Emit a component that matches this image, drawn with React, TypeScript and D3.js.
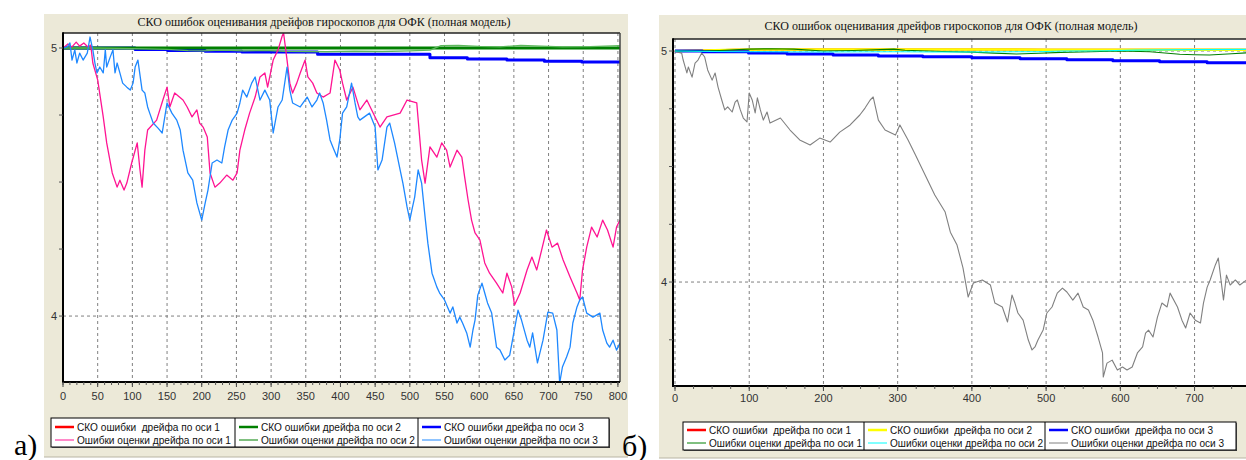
import React from 'react';
import * as d3 from 'd3';

type Pt = [number, number];

const TITLE = 'СКО ошибок оценивания дрейфов гироскопов для ОФК (полная модель)';

// ---------- panel а): [time, value] ----------
const estAxis1A: Pt[] = [
  [0, 5.0], [7, 5.015], [13, 5.004], [19, 5.022], [24, 5.007], [30, 5.019], [36, 5.004], [40, 5.011],
  [43, 4.944], [50, 4.881], [58, 4.743], [63, 4.646], [71, 4.534], [78, 4.481], [82, 4.507], [88, 4.47],
  [92, 4.496], [99, 4.571], [107, 4.646], [111, 4.545], [114, 4.481], [118, 4.619], [122, 4.694], [135, 4.731],
  [144, 4.806], [150, 4.854], [154, 4.78], [161, 4.832], [173, 4.806], [179, 4.78], [186, 4.743], [193, 4.769],
  [197, 4.72], [202, 4.705], [208, 4.668], [212, 4.534], [219, 4.481], [226, 4.496], [236, 4.526], [245, 4.507],
  [251, 4.534], [255, 4.619], [262, 4.694], [269, 4.757], [277, 4.817], [284, 4.892], [291, 4.907], [295, 4.854],
  [303, 4.955], [310, 4.993], [316, 5.045], [318, 5.056], [323, 4.955], [327, 4.869], [331, 4.832], [337, 4.869],
  [342, 4.907], [349, 4.955], [353, 4.892], [360, 4.869], [366, 4.832], [375, 4.817], [385, 4.832], [392, 4.955],
  [399, 4.918], [403, 4.869], [409, 4.806], [418, 4.854], [428, 4.769], [438, 4.806], [457, 4.705], [467, 4.743],
  [486, 4.757], [496, 4.806], [510, 4.795], [517, 4.582], [522, 4.496], [529, 4.631], [539, 4.593], [546, 4.646],
  [553, 4.619], [558, 4.556], [568, 4.619], [575, 4.593], [579, 4.519], [584, 4.433], [589, 4.358], [594, 4.31],
  [601, 4.284], [608, 4.198], [615, 4.16], [625, 4.123], [634, 4.086], [640, 4.16], [647, 4.108], [651, 4.041],
  [659, 4.086], [669, 4.172], [676, 4.22], [683, 4.172], [690, 4.246], [697, 4.321], [705, 4.257], [713, 4.272],
  [721, 4.209], [731, 4.146], [741, 4.086], [745, 4.06], [749, 4.172], [755, 4.257], [762, 4.332], [770, 4.295],
  [778, 4.358], [785, 4.321], [793, 4.257], [798, 4.332], [803, 4.358],
];

const estAxis2A: Pt[] = [
  [0, 5.0], [40, 5.0], [80, 4.999], [120, 4.997], [150, 4.995], [180, 4.99], [200, 4.989], [230, 4.992],
  [260, 4.989], [290, 4.991], [320, 4.988], [350, 4.987], [380, 4.986], [420, 4.988], [460, 4.987], [500, 4.989],
  [529, 4.992], [545, 5.009], [570, 5.01], [600, 5.006], [630, 5.004], [660, 5.01], [690, 5.007], [720, 5.004],
  [760, 5.005], [803, 5.009],
];

const estAxis3A: Pt[] = [
  [0, 5.0], [6, 5.004], [10, 5.019], [13, 4.955], [17, 4.993], [20, 4.944], [24, 4.981], [29, 4.955],
  [35, 4.981], [39, 5.041], [43, 4.993], [46, 4.944], [49, 4.907], [53, 4.929], [58, 4.907], [61, 4.993],
  [63, 4.929], [68, 4.966], [72, 4.993], [75, 4.907], [78, 4.944], [82, 4.907], [86, 4.869], [92, 4.854],
  [97, 4.843], [101, 4.869], [104, 4.929], [108, 4.955], [114, 4.843], [118, 4.832], [122, 4.78], [125, 4.757],
  [130, 4.72], [137, 4.701], [143, 4.683], [150, 4.795], [157, 4.757], [164, 4.731], [169, 4.694], [173, 4.619],
  [180, 4.534], [187, 4.507], [193, 4.422], [200, 4.358], [205, 4.422], [209, 4.47], [215, 4.571], [222, 4.582],
  [229, 4.571], [233, 4.631], [238, 4.694], [244, 4.731], [251, 4.757], [255, 4.795], [259, 4.843], [265, 4.817],
  [272, 4.869], [277, 4.892], [284, 4.806], [291, 4.843], [298, 4.806], [303, 4.683], [310, 4.78], [316, 4.806],
  [323, 4.929], [327, 4.843], [331, 4.795], [342, 4.78], [352, 4.817], [359, 4.78], [366, 4.806], [370, 4.832],
  [375, 4.795], [380, 4.731], [385, 4.657], [389, 4.631], [395, 4.593], [399, 4.657], [403, 4.757], [409, 4.78],
  [416, 4.869], [421, 4.795], [425, 4.743], [428, 4.731], [442, 4.757], [450, 4.705], [454, 4.545], [460, 4.582],
  [467, 4.705], [471, 4.72], [478, 4.646], [486, 4.545], [490, 4.496], [496, 4.407], [500, 4.358], [503, 4.396],
  [507, 4.444], [512, 4.545], [517, 4.496], [522, 4.369], [526, 4.272], [532, 4.16], [539, 4.108], [543, 4.086],
  [550, 4.06], [558, 4.011], [562, 4.034], [568, 3.974], [572, 3.996], [576, 3.974], [582, 3.937], [587, 3.884],
  [591, 3.948], [594, 3.985], [598, 4.078], [604, 4.123], [608, 4.086], [612, 4.049], [618, 4.011], [625, 3.884],
  [630, 3.873], [637, 3.836], [644, 3.854], [648, 3.91], [656, 4.022], [661, 3.985], [669, 3.91], [673, 3.884],
  [677, 3.937], [684, 3.825], [692, 3.91], [699, 4.015], [706, 4.011], [712, 3.948], [716, 3.75], [720, 3.81],
  [726, 3.847], [731, 3.884], [735, 3.974], [741, 4.034], [745, 4.06], [749, 4.071], [755, 4.011], [764, 3.996],
  [774, 4.011], [778, 3.948], [784, 3.899], [788, 3.884], [793, 3.91], [798, 3.873], [803, 3.899],
];

const skoAxis2A: Pt[] = [[0, 5.0], [803, 5.0]];
// axis-1 RMS coincides with axis-2 RMS and lies underneath it
const skoAxis1A: Pt[] = [[0, 5.0], [803, 5.0]];
const skoAxis3A: Pt[] = [
  [0, 5.0], [104, 4.994], [151, 4.991], [205, 4.988], [258, 4.985], [367, 4.977], [529, 4.964],
  [583, 4.959], [640, 4.955], [694, 4.951], [748, 4.948], [803, 4.948],
];

// ---------- panel б): [time, value] ----------
const estAxis1B: Pt[] = [
  [0, 5.0], [30, 4.999], [60, 5.002], [100, 5.008], [130, 5.01], [160, 5.008], [200, 5.0], [240, 5.002],
  [295, 5.008], [310, 5.003], [360, 4.998], [400, 4.995], [430, 4.991], [460, 4.987], [490, 4.99],
  [520, 4.994], [560, 4.997], [600, 5.0], [640, 4.997], [680, 4.986], [700, 4.984], [720, 4.983],
  [750, 4.988], [770, 4.992], [803, 4.99],
];

const estAxis2B: Pt[] = [
  [0, 5.0], [50, 4.998], [100, 4.997], [200, 4.996], [300, 4.997], [350, 4.996], [400, 4.996],
  [490, 4.997], [520, 5.0], [580, 5.001], [620, 5.004], [700, 5.006], [770, 5.007], [803, 5.007],
];

const estAxis3B: Pt[] = [
  [0, 5.0], [3, 4.996], [9, 4.991], [11, 4.961], [16, 4.905], [18, 4.931], [23, 4.887], [27, 4.948],
  [31, 4.961], [36, 4.991], [40, 4.974], [44, 4.918], [50, 4.874], [54, 4.905], [58, 4.844], [63, 4.788],
  [67, 4.745], [71, 4.758], [77, 4.736], [81, 4.779], [84, 4.788], [88, 4.745], [92, 4.71], [97, 4.693],
  [100, 4.818], [104, 4.788], [108, 4.732], [111, 4.797], [115, 4.745], [119, 4.701], [124, 4.736], [128, 4.688],
  [142, 4.71], [155, 4.658], [168, 4.615], [182, 4.593], [195, 4.623], [209, 4.606], [222, 4.649], [236, 4.68],
  [249, 4.723], [256, 4.753], [263, 4.788], [267, 4.801], [274, 4.701], [283, 4.658], [297, 4.636], [303, 4.68],
  [314, 4.615], [324, 4.55], [337, 4.463], [350, 4.377], [364, 4.303], [371, 4.216], [380, 4.16], [388, 4.061],
  [395, 3.935], [402, 3.996], [414, 4.009], [425, 3.987], [431, 3.909], [441, 3.892], [448, 3.827], [454, 3.944],
  [458, 3.909], [462, 3.866], [469, 3.835], [476, 3.749], [481, 3.706], [485, 3.719], [489, 3.749], [496, 3.792],
  [501, 3.866], [508, 3.892], [515, 3.952], [522, 3.974], [528, 3.957], [536, 3.922], [543, 3.952], [550, 3.892],
  [557, 3.879], [563, 3.835], [570, 3.762], [576, 3.693], [577, 3.589], [582, 3.649], [589, 3.662], [596, 3.619],
  [603, 3.632], [609, 3.619], [616, 3.632], [623, 3.693], [630, 3.719], [634, 3.779], [638, 3.792], [644, 3.762],
  [650, 3.848], [656, 3.909], [663, 3.892], [667, 3.952], [677, 3.892], [683, 3.835], [688, 3.801], [694, 3.866],
  [701, 3.835], [708, 3.823], [712, 3.909], [717, 3.978], [721, 4.009], [728, 4.074], [732, 4.104], [739, 3.922],
  [743, 4.03], [748, 3.987], [755, 4.009], [761, 3.987], [770, 4.009],
];

const skoAxis2B: Pt[] = [
  [0, 5.0], [40, 5.002], [80, 5.005], [150, 5.007], [300, 5.007], [500, 5.006], [803, 5.006],
];
// axis-1 RMS coincides with axis-2 RMS and lies underneath it
const skoAxis1B: Pt[] = [
  [0, 5.0], [40, 5.002], [80, 5.005], [150, 5.007], [300, 5.007], [500, 5.006], [803, 5.006],
];
const skoAxis3B: Pt[] = [
  [0, 5.0], [37, 4.997], [99, 4.991], [151, 4.987], [213, 4.983], [274, 4.978], [334, 4.975],
  [400, 4.971], [465, 4.967], [528, 4.962], [590, 4.958], [653, 4.954], [717, 4.949], [803, 4.949],
];

// ---------- axes ----------
const xTicksA = [0, 50, 100, 150, 200, 250, 300, 350, 400, 450, 500, 550, 600, 650, 700, 750, 800];
const xTicksB = [0, 100, 200, 300, 400, 500, 600, 700];
const yLabelTicks = [4, 5];
const yMinorTicks = [3.5, 3.75, 4, 4.25, 4.5, 4.75, 5];

const LEGEND_SKO = ['СКО ошибки  дрейфа по оси 1', 'СКО ошибки дрейфа по оси 2', 'СКО ошибки дрейфа по оси 3'];
const LEGEND_SKO_B = ['СКО ошибки  дрейфа по оси 1', 'СКО ошибки  дрейфа по оси 2', 'СКО ошибки  дрейфа по оси 3'];
const LEGEND_EST = ['Ошибки оценки дрейфа по оси 1', 'Ошибки оценки дрейфа по оси 2', 'Ошибки оценки дрейфа по оси 3'];

const BG = '#ece9d8';
const SANS = '"Liberation Sans", Arial, sans-serif';
const SERIF = '"Liberation Serif", "Times New Roman", serif';

interface Series { data: Pt[]; color: string; width: number; step?: boolean }

interface PanelProps {
  id: string;
  bg: { x: number; y: number; w: number; h: number };
  plot: { x0: number; x1: number; y0: number; y1: number };
  xDomain: [number, number];
  yDomain: [number, number];
  xTicks: number[];
  xMinorStep: number;
  titleX: number;
  titleY: number;
  labelY: number;
  legend: {
    x: number; y: number; w: number; h: number; cols: number[]; row1: number; row2: number;
    len1: number[]; len2: number[];
  };
  skoLabels: string[];
  skoColors: string[];
  estColors: string[];
  thick: Series[];
  thin: Series[];
  tag: string;
  tagX: number;
  tagY: number;
}

function Panel(p: PanelProps) {
  const x = d3.scaleLinear().domain(p.xDomain).range([p.plot.x0, p.plot.x1]);
  const y = d3.scaleLinear().domain(p.yDomain).range([p.plot.y1, p.plot.y0]);
  const mk = (s: Series) =>
    d3.line<Pt>().x(d => x(d[0])).y(d => y(d[1])).curve(s.step ? d3.curveStepAfter : d3.curveLinear)(s.data) || '';
  const minor = d3.range(Math.max(0, p.xDomain[0]), p.xDomain[1] + 0.01, p.xMinorStep);
  const { x0, x1, y0, y1 } = p.plot;
  const renderSeries = (arr: Series[], key: string) =>
    arr.map((s, i) => (
      <path key={key + i} d={mk(s)} fill="none" stroke={s.color} strokeWidth={s.width}
        strokeLinejoin="round" strokeLinecap="butt" />
    ));
  const lg = p.legend;
  const colX = [lg.x, ...lg.cols];
  return (
    <g>
      <rect x={p.bg.x} y={p.bg.y} width={p.bg.w} height={p.bg.h} fill={BG} />
      <line x1={p.bg.x} x2={p.bg.x + p.bg.w} y1={p.bg.y + p.bg.h} y2={p.bg.y + p.bg.h} stroke="#b8b4a4" strokeWidth={1} />
      <text x={p.titleX} y={p.titleY} textAnchor="middle" fontFamily={SERIF} fontSize={12} fill="#111">{TITLE}</text>
      <defs>
        <clipPath id={p.id}>
          <rect x={x0} y={y0} width={x1 - x0} height={y1 - y0} />
        </clipPath>
      </defs>
      <rect x={x0} y={y0} width={x1 - x0} height={y1 - y0} fill="#fff" />
      <g clipPath={`url(#${p.id})`}>
        {p.xTicks.map(t => (
          <line key={'gx' + t} x1={x(t)} x2={x(t)} y1={y0} y2={y1} stroke="#808080" strokeWidth={1} strokeDasharray="3,3" />
        ))}
        {yLabelTicks.map(t => (
          <line key={'gy' + t} x1={x0} x2={x1} y1={y(t)} y2={y(t)} stroke="#808080" strokeWidth={1} strokeDasharray="3,3" />
        ))}
        {renderSeries(p.thick, 't')}
        {renderSeries(p.thin, 'n')}
      </g>
      {/* frame */}
      <line x1={x0} x2={x1} y1={y0} y2={y0} stroke="#222" strokeWidth={1.5} />
      <line x1={x1} x2={x1} y1={y0} y2={y1} stroke="#444" strokeWidth={1.5} />
      <line x1={x0} x2={x0} y1={y0 - 0.75} y2={y1 + 1} stroke="#000" strokeWidth={2} />
      <line x1={x0 - 1} x2={x1} y1={y1} y2={y1} stroke="#000" strokeWidth={2} />
      {/* y axis ticks */}
      {yMinorTicks.filter(t => y(t) >= y0 && y(t) <= y1).map(t => (
        <line key={'ym' + t} x1={x0 - 4} x2={x0} y1={y(t)} y2={y(t)} stroke="#555" strokeWidth={1} />
      ))}
      {yLabelTicks.map(t => (
        <text key={'yl' + t} x={x0 - 6} y={y(t) + 4} textAnchor="end" fontFamily={SANS} fontSize={11} fill="#333">{t}</text>
      ))}
      {/* x axis ticks */}
      {minor.map(t => (
        <line key={'xm' + t} x1={x(t)} x2={x(t)} y1={y1} y2={y1 + 3} stroke="#555" strokeWidth={1} />
      ))}
      {p.xTicks.map(t => (
        <g key={'xl' + t}>
          <line x1={x(t)} x2={x(t)} y1={y1} y2={y1 + 5} stroke="#444" strokeWidth={1} />
          <text x={x(t)} y={p.labelY} textAnchor="middle" fontFamily={SANS} fontSize={11} fill="#333">{t}</text>
        </g>
      ))}
      {/* legend */}
      <rect x={lg.x} y={lg.y} width={lg.w} height={lg.h} fill="#fff" stroke="#000" strokeWidth={1} />
      <line x1={lg.x + 1} x2={lg.x + lg.w + 1} y1={lg.y + lg.h + 0.5} y2={lg.y + lg.h + 0.5} stroke="#333" strokeWidth={1} />
      <line x1={lg.x + lg.w + 0.5} x2={lg.x + lg.w + 0.5} y1={lg.y + 1} y2={lg.y + lg.h + 1} stroke="#333" strokeWidth={1} />
      {lg.cols.map(c => (
        <line key={'ld' + c} x1={c} x2={c} y1={lg.y} y2={lg.y + lg.h} stroke="#000" strokeWidth={1} />
      ))}
      {colX.map((cx, i) => (
        <g key={'li' + i}>
          <line x1={cx + 4} x2={cx + 23} y1={lg.row1 - 4} y2={lg.row1 - 4} stroke={p.skoColors[i]} strokeWidth={2.5} />
          <text x={cx + 26} y={lg.row1} fontFamily={SANS} fontSize={11} fill="#111" style={{ whiteSpace: 'pre' }}
            textLength={lg.len1[i]} lengthAdjust="spacingAndGlyphs">{p.skoLabels[i]}</text>
          <line x1={cx + 4} x2={cx + 23} y1={lg.row2 - 4} y2={lg.row2 - 4} stroke={p.estColors[i]} strokeWidth={1} />
          <text x={cx + 26} y={lg.row2} fontFamily={SANS} fontSize={11} fill="#111" style={{ whiteSpace: 'pre' }}
            textLength={lg.len2[i]} lengthAdjust="spacingAndGlyphs">{LEGEND_EST[i]}</text>
        </g>
      ))}
      <text x={p.tagX} y={p.tagY} fontFamily={SERIF} fontSize={30} fill="#000">{p.tag}</text>
    </g>
  );
}

export default function App() {
  const skoA = ['#ff0000', '#008000', '#0000ff'];
  const estA = ['#ff1493', '#008000', '#1e88ff'];
  const skoB = ['#ff0000', '#ffff00', '#0000ff'];
  const estB = ['#008000', '#00ffff', '#808080'];
  return (
    <div style={{ position: 'absolute', left: 0, top: 0 }}>
      <svg width={1246} height={460} style={{ display: 'block', background: '#fff' }}>
        <Panel
          id="clipA"
          bg={{ x: 44, y: 14, w: 584, h: 443 }}
          plot={{ x0: 63, x1: 620, y0: 33, y1: 382 }}
          xDomain={[0, 803]}
          yDomain={[3.754, 5.056]}
          xTicks={xTicksA}
          xMinorStep={10}
          titleX={324}
          titleY={26}
          labelY={400}
          legend={{
            x: 51, y: 418, w: 558, h: 29, cols: [235, 418], row1: 431, row2: 444,
            len1: [143, 140, 140], len2: [154, 154, 154],
          }}
          skoLabels={LEGEND_SKO}
          skoColors={skoA}
          estColors={estA}
          thick={[
            { data: skoAxis1A, color: skoA[0], width: 2 },
            { data: skoAxis3A, color: skoA[2], width: 3, step: true },
            { data: skoAxis2A, color: skoA[1], width: 3 },
          ]}
          thin={[
            { data: estAxis2A, color: '#5cb85c', width: 1.3 },
            { data: estAxis1A, color: estA[0], width: 1.3 },
            { data: estAxis3A, color: estA[2], width: 1.3 },
          ]}
          tag="а)"
          tagX={14}
          tagY={455}
        />
        <Panel
          id="clipB"
          bg={{ x: 659, y: 15, w: 600, h: 443 }}
          plot={{ x0: 673, x1: 1271, y0: 39, y1: 386 }}
          xDomain={[-2.7, 803]}
          yDomain={[3.55, 5.052]}
          xTicks={xTicksB}
          xMinorStep={25}
          titleX={951}
          titleY={30}
          labelY={402}
          legend={{
            x: 683, y: 422, w: 553, h: 28, cols: [864, 1045], row1: 434, row2: 447,
            len1: [142, 142, 142], len2: [153, 153, 153],
          }}
          skoLabels={LEGEND_SKO_B}
          skoColors={skoB}
          estColors={estB}
          thick={[
            { data: skoAxis1B, color: skoB[0], width: 2 },
            { data: skoAxis2B, color: skoB[1], width: 2.5 },
            { data: skoAxis3B, color: skoB[2], width: 3, step: true },
          ]}
          thin={[
            { data: estAxis3B, color: estB[2], width: 1.1 },
            { data: estAxis1B, color: estB[0], width: 1.1 },
            { data: estAxis2B, color: estB[1], width: 1.1 },
          ]}
          tag="б)"
          tagX={622}
          tagY={456}
        />
      </svg>
    </div>
  );
}
